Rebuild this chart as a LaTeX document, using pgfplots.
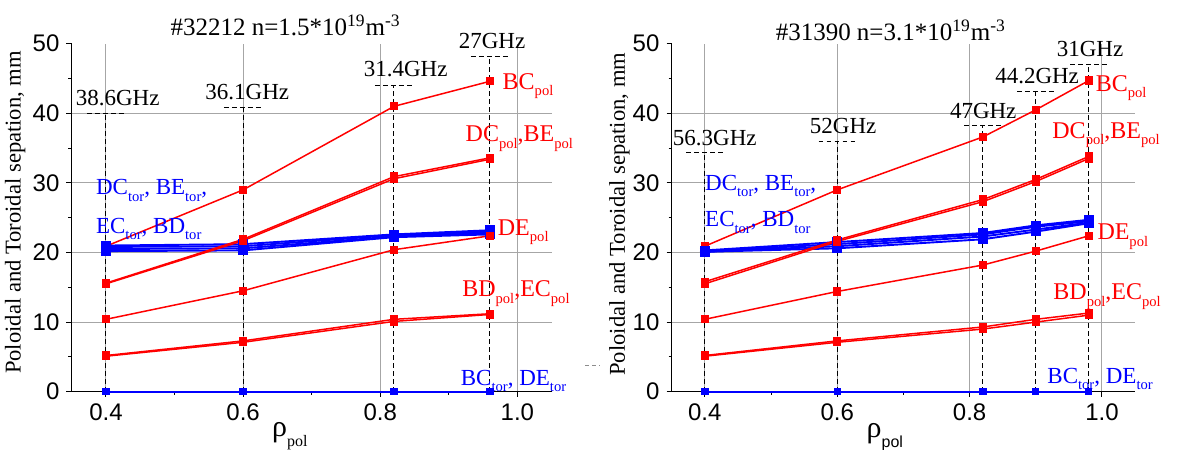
\documentclass[border=0pt]{standalone}
\usepackage{fontspec}
\setmainfont{Liberation Serif}
\newfontfamily\arial{Liberation Sans}
\usepackage{pgfplots}
\pgfplotsset{compat=1.18}

\newcommand{\fs}[1]{\fontsize{#1}{#1}\selectfont}
\newcommand{\sub}[1]{\raisebox{-3.2pt}{\fs{7.3}#1}}

\pgfplotsset{
  sep/.style={
    scale only axis, height=174pt,
    xmin=0.35, xmax=1.05, ymin=0, ymax=50,
    axis lines*=left, axis line style={line width=0.65pt},
    tick align=outside, major tick length=2.6pt, minor tick length=1.6pt,
    tick style={black, line width=0.5pt},
    xtick={0.4,0.6,0.8,1.0}, minor x tick num=1,
    ytick={0,10,...,50}, minor y tick num=1,
    xmajorgrids, major grid style={black!35, line width=0.5pt},
    extra y ticks={10,20,30,40}, extra y tick labels={},
    extra y tick style={grid=major, major tick length=0pt},
    ticklabel style={font=\arial\fs{12}},
    /pgf/number format/assume math mode=true,
    x tick label style={/pgf/number format/.cd, fixed, fixed zerofill, precision=1, /tikz/.cd},
    clip=false,
  },
  redl/.style={red, line width=0.75pt, mark=square*, mark size=1.7pt},
  bluel/.style={blue, line width=0.95pt, mark=square*, mark size=1.9pt},
  zerol/.style={blue, line width=1.1pt, mark=square*, mark size=1.3pt},
  fline/.style={black, dash pattern=on 2.4pt off 1.6pt, line width=0.5pt, no marks},
}
\tikzset{
  flab/.style={font=\fs{11.5}, anchor=base},
  rlab/.style={font=\fs{12}, text=red, anchor=base west, inner sep=0pt},
  blab/.style={font=\fs{11.5}, text=blue, anchor=base west, inner sep=0pt},
}

\begin{document}
\begin{tikzpicture}
\useasboundingbox (0,0) rectangle (590pt,225pt);

% ---- left panel: #32212 ----
\begin{axis}[sep, width=240pt, at={(35.85pt,29.15pt)}, anchor=south west]
\addplot[redl] coordinates {(0.4,20.9) (0.6,29.0) (0.82,41.0) (0.96,44.6)};
% toroidal
\addplot[bluel] coordinates {(0.4,21.0) (0.6,21.2) (0.82,22.6) (0.96,23.2)};
\addplot[bluel] coordinates {(0.4,20.8) (0.6,20.9) (0.82,22.5) (0.96,23.0)};
\addplot[bluel] coordinates {(0.4,20.5) (0.6,20.6) (0.82,22.3) (0.96,22.8)};
\addplot[bluel] coordinates {(0.4,20.2) (0.6,20.3) (0.82,22.2) (0.96,22.6)};
% poloidal
\addplot[redl] coordinates {(0.4,15.6) (0.6,21.9) (0.82,30.9) (0.96,33.6)};
\addplot[redl] coordinates {(0.4,15.5) (0.6,21.7) (0.82,30.6) (0.96,33.4)};
\addplot[redl] coordinates {(0.4,10.4) (0.6,14.5) (0.82,20.4) (0.96,22.4)};
\addplot[redl] coordinates {(0.4,5.2) (0.6,7.3) (0.82,10.4) (0.96,11.2)};
\addplot[redl] coordinates {(0.4,5.1) (0.6,7.1) (0.82,10.1) (0.96,11.1)};
\addplot[zerol] coordinates {(0.4,0) (0.6,0) (0.82,0) (0.96,0)};
% frequencies
\addplot[fline] coordinates {(0.4,0) (0.4,40)};
\addplot[fline] coordinates {(0.372,40) (0.428,40)};
\addplot[fline] coordinates {(0.6,0) (0.6,40.9)};
\addplot[fline] coordinates {(0.572,40.9) (0.628,40.9)};
\addplot[fline] coordinates {(0.82,0) (0.82,44.05)};
\addplot[fline] coordinates {(0.792,44.05) (0.848,44.05)};
\addplot[fline] coordinates {(0.96,0) (0.96,48.1)};
\addplot[fline] coordinates {(0.932,48.1) (0.988,48.1)};
\node[flab] at (axis cs:0.417,41.15) {38.6GHz};
\node[flab] at (axis cs:0.606,42.05) {36.1GHz};
\node[flab] at (axis cs:0.837,45.3) {31.4GHz};
\node[flab] at (axis cs:0.963,49.3) {27GHz};
% labels
\node[blab] at (axis cs:0.385,28.3) {DC\sub{tor}, BE\sub{tor},};
\node[blab] at (axis cs:0.385,22.75) {EC\sub{tor}, BD\sub{tor}};
\node[rlab] at (axis cs:0.978,43.45) {BC\sub{pol}};
\node[rlab] at (axis cs:0.924,35.9) {DC\sub{pol},BE\sub{pol}};
\node[rlab] at (axis cs:0.971,22.5) {DE\sub{pol}};
\node[rlab] at (axis cs:0.919,13.65) {BD\sub{pol},EC\sub{pol}};
\node[blab] at (axis cs:0.917,0.96) {BC\sub{tor}, DE\sub{tor}};
\node[anchor=base, font=\fs{12.5}] at (axis cs:0.662,51.25)
  {\#32212 n=1.5*10\textsuperscript{19}m\textsuperscript{-3}};
\node[anchor=base, font=\fs{15}] at (axis cs:0.668,-6.4) {ρ\raisebox{-5pt}{\fs{8}pol}};
\node[anchor=base, rotate=90, font=\fs{11.3}] at (axis cs:0.2754,25.75)
  {Poloidal and Toroidal sepation, mm};
\end{axis}

% ---- right panel: #31390 ----
\begin{axis}[sep, width=231.7pt, at={(335.85pt,29.15pt)}, anchor=south west]
\addplot[redl] coordinates {(0.4,20.9) (0.6,29.0) (0.82,36.6) (0.9,40.5) (0.98,44.7)};
% toroidal
\addplot[bluel, mark=square*] coordinates {(0.4,20.3) (0.6,21.5) (0.82,22.8) (0.9,23.9) (0.98,24.7)};
\addplot[bluel, mark=triangle*, mark options={rotate=180}] coordinates {(0.4,20.2) (0.6,21.2) (0.82,22.6) (0.9,23.7) (0.98,24.5)};
\addplot[bluel, mark=*] coordinates {(0.4,20.1) (0.6,20.9) (0.82,22.3) (0.9,23.3) (0.98,24.3)};
\addplot[bluel, mark=square*] coordinates {(0.4,20.1) (0.6,20.6) (0.82,21.9) (0.9,23.0) (0.98,24.2)};
% poloidal
\addplot[redl] coordinates {(0.4,15.8) (0.6,21.8) (0.82,27.6) (0.9,30.5) (0.98,33.8)};
\addplot[redl] coordinates {(0.4,15.5) (0.6,21.6) (0.82,27.3) (0.9,30.2) (0.98,33.5)};
\addplot[redl] coordinates {(0.4,10.4) (0.6,14.4) (0.82,18.2) (0.9,20.2) (0.98,22.4)};
\addplot[redl] coordinates {(0.4,5.2) (0.6,7.3) (0.82,9.3) (0.9,10.4) (0.98,11.3)};
\addplot[redl] coordinates {(0.4,5.1) (0.6,7.1) (0.82,9.0) (0.9,10.0) (0.98,11.0)};
\addplot[zerol] coordinates {(0.4,0) (0.6,0) (0.82,0) (0.9,0) (0.98,0)};
% frequencies
\addplot[fline] coordinates {(0.4,0) (0.4,34.3)};
\addplot[fline] coordinates {(0.372,34.3) (0.428,34.3)};
\addplot[fline] coordinates {(0.6,0) (0.6,36.0)};
\addplot[fline] coordinates {(0.572,36.0) (0.628,36.0)};
\addplot[fline] coordinates {(0.82,0) (0.82,38.2)};
\addplot[fline] coordinates {(0.792,38.2) (0.848,38.2)};
\addplot[fline] coordinates {(0.9,0) (0.9,43.2)};
\addplot[fline] coordinates {(0.872,43.2) (0.928,43.2)};
\addplot[fline] coordinates {(0.98,0) (0.98,47.0)};
\addplot[fline] coordinates {(0.952,47.0) (1.008,47.0)};
\node[flab] at (axis cs:0.415,35.4) {56.3GHz};
\node[flab] at (axis cs:0.609,37.1) {52GHz};
\node[flab] at (axis cs:0.8206,39.3) {47GHz};
\node[flab] at (axis cs:0.902,44.3) {44.2GHz};
\node[flab] at (axis cs:0.982,48.1) {31GHz};
% labels
\node[blab] at (axis cs:0.4,28.95) {DC\sub{tor}, BE\sub{tor},};
\node[blab] at (axis cs:0.4,23.7) {EC\sub{tor}, BD\sub{tor}};
\node[rlab] at (axis cs:0.99,43.2) {BC\sub{pol}};
\node[rlab] at (axis cs:0.9245,36.4) {DC\sub{pol},BE\sub{pol}};
\node[rlab] at (axis cs:0.9926,21.8) {DE\sub{pol}};
\node[rlab] at (axis cs:0.926,13.2) {BD\sub{pol},EC\sub{pol}};
\node[blab] at (axis cs:0.917,1.2) {BC\sub{tor}, DE\sub{tor}};
\node[anchor=base, font=\fs{12.5}] at (axis cs:0.681,50.5)
  {\#31390 n=3.1*10\textsuperscript{19}m\textsuperscript{-3}};
\node[anchor=base, font=\fs{15}] at (axis cs:0.672,-6.6) {ρ\raisebox{-5pt}{\arial\fs{8}pol}};
\node[anchor=base, rotate=90, font=\fs{11.3}] at (axis cs:0.2793,25.5)
  {Poloidal and Toroidal sepation, mm};
\end{axis}

\draw[black!45, dash pattern=on 2pt off 1.5pt, line width=0.4pt] (292.5pt,42.5pt) -- (300pt,42.5pt);
\end{tikzpicture}
\end{document}
